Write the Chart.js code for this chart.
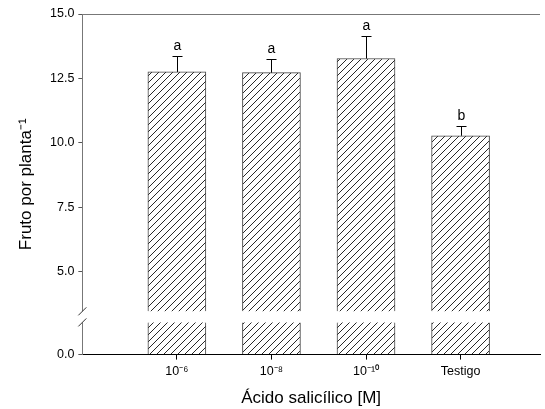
<!DOCTYPE html>
<html>
<head>
<meta charset="utf-8">
<script src="https://cdn.jsdelivr.net/npm/chart.js@4.4.0/dist/chart.umd.min.js"></script>
<style>
  body { margin: 0; background: #fff; }
  #wrap { width: 545px; height: 409px; }
</style>
</head>
<body>
<div id="wrap"><canvas id="chart" width="545" height="409"></canvas></div>
<script>
// values
const categories = ['10⁻⁶', '10⁻⁸', '10⁻¹⁰', 'Testigo'];
const fruitMeans = [12.75, 12.72, 13.27, 10.27];
const fruitErrors = [0.62, 0.53, 0.87, 0.39];
const groupLetters = ['a', 'a', 'a', 'b'];
const upperTicks = [5.0, 7.5, 10.0, 12.5, 15.0];
const lowerTicks = [0.0];

// broken y axis: upper part 3.25..15, lower part 0..1.48
const UPPER_MIN = 3.25, UPPER_MAX = 15;
const LOWER_MIN = 0, LOWER_MAX = 1.48;
const BREAK_HIGH = 3.45; // upper bar pieces start here
const BREAK_LOW = 1.25;  // lower bar pieces stop here

const font = 'Arial, "Liberation Sans", sans-serif';
const canvas = document.getElementById('chart');
const ctx = canvas.getContext('2d');

// diagonal hatch used as bar fill
function makeHatch() {
  const size = 7;
  const c = document.createElement('canvas');
  c.width = size;
  c.height = size;
  const g = c.getContext('2d');
  g.fillStyle = '#fff';
  g.fillRect(0, 0, size, size);
  g.strokeStyle = '#111';
  g.lineWidth = 0.9;
  g.beginPath();
  g.moveTo(-1, size + 1);
  g.lineTo(size + 1, -1);
  g.moveTo(-1, 1);
  g.lineTo(1, -1);
  g.moveTo(size - 1, size + 1);
  g.lineTo(size + 1, size - 1);
  g.stroke();
  return ctx.createPattern(c, 'repeat');
}
const hatch = makeHatch();

// error bars (upper half only) and the letters above them
const errorBarPlugin = {
  id: 'errorBars',
  afterDatasetsDraw(chart) {
    const c = chart.ctx;
    const xs = chart.scales.x;
    const ys = chart.scales.yHigh;
    c.save();
    c.strokeStyle = '#000';
    c.lineWidth = 1;
    c.fillStyle = '#000';
    c.font = '14px ' + font;
    c.textAlign = 'center';
    c.textBaseline = 'bottom';
    fruitMeans.forEach((m, i) => {
      const x = Math.round(xs.getPixelForValue(i + 1)) + 0.5;
      const yBar = ys.getPixelForValue(m);
      const yTop = Math.round(ys.getPixelForValue(m + fruitErrors[i])) + 0.5;
      c.beginPath();
      c.moveTo(x, yBar);
      c.lineTo(x, yTop);
      c.moveTo(x - 5, yTop);
      c.lineTo(x + 5, yTop);
      c.stroke();
      c.fillText(groupLetters[i], x, yTop - 3);
    });
    c.restore();
  }
};

// gap and slash marks on the y axis line, plus the y title centred on the whole axis
const axisBreakPlugin = {
  id: 'axisBreak',
  afterDraw(chart) {
    const c = chart.ctx;
    const area = chart.chartArea;
    const x = area.left;
    const yA = chart.scales.yHigh.getPixelForValue(BREAK_HIGH);
    const yB = chart.scales.yLow.getPixelForValue(BREAK_LOW);
    c.save();
    c.fillStyle = '#fff';
    c.fillRect(x - 2, yA, 4, yB - yA);
    c.strokeStyle = '#333';
    c.lineWidth = 1;
    [yA, yB].forEach(y => {
      c.beginPath();
      c.moveTo(x - 4, y + 4);
      c.lineTo(x + 4, y - 4);
      c.stroke();
    });
    c.translate(26, (area.top + area.bottom) / 2);
    c.rotate(-Math.PI / 2);
    c.fillStyle = '#000';
    c.font = '17px ' + font;
    c.textAlign = 'center';
    c.textBaseline = 'middle';
    c.fillText('Fruto por planta⁻¹', 0, 0);
    c.restore();
  }
};

const upperData = fruitMeans.map((m, i) => ({ x: i + 1, y: [BREAK_HIGH, m] }));
const lowerData = fruitMeans.map((m, i) => ({ x: i + 1, y: [LOWER_MIN, Math.min(m, BREAK_LOW)] }));

new Chart(ctx, {
  type: 'bar',
  data: {
    datasets: [
      {
        data: upperData,
        yAxisID: 'yHigh',
        backgroundColor: hatch,
        borderColor: '#444',
        borderWidth: { left: 1, right: 1, top: 1, bottom: 0 },
        borderSkipped: false,
        barThickness: 58,
      },
      {
        data: lowerData,
        yAxisID: 'yLow',
        backgroundColor: hatch,
        borderColor: '#444',
        borderWidth: { left: 1, right: 1, top: 0, bottom: 0 },
        borderSkipped: false,
        barThickness: 58,
      },
    ],
  },
  options: {
    responsive: false,
    animation: false,
    layout: { padding: { top: 14, right: 5, left: 46, bottom: 0 } },
    plugins: {
      legend: { display: false },
      tooltip: { enabled: false },
    },
    datasets: { bar: { grouped: false } },
    scales: {
      x: {
        type: 'linear',
        min: 0,
        max: 4.84,
        offset: false,
        afterBuildTicks: (scale) => {
          scale.ticks = categories.map((c, i) => ({ value: i + 1 }));
        },
        ticks: {
          callback: (v) => categories[v - 1],
          color: '#000',
          font: { family: font, size: 12.5 },
          padding: 4,
        },
        grid: { drawOnChartArea: false, offset: false, tickLength: 5, tickColor: '#000' },
        border: { color: '#000', width: 1 },
        title: {
          display: true,
          text: 'Ácido salicílico [M]',
          color: '#000',
          font: { family: font, size: 17 },
          padding: { top: 6, bottom: 0 },
        },
      },
      // lower piece first: left boxes are laid out in reverse order
      yLow: {
        type: 'linear',
        position: 'left',
        stack: 'yBroken',
        stackWeight: LOWER_MAX - LOWER_MIN,
        min: LOWER_MIN,
        max: LOWER_MAX,
        afterBuildTicks: (scale) => {
          scale.ticks = lowerTicks.map(v => ({ value: v }));
        },
        ticks: {
          callback: (v) => v.toFixed(1),
          color: '#000',
          font: { family: font, size: 12.5 },
          padding: 4,
        },
        grid: { drawOnChartArea: false, tickColor: '#555', tickLength: 4 },
        border: { color: '#777', width: 1 },
      },
      yHigh: {
        type: 'linear',
        position: 'left',
        stack: 'yBroken',
        stackWeight: UPPER_MAX - UPPER_MIN,
        min: UPPER_MIN,
        max: UPPER_MAX,
        afterBuildTicks: (scale) => {
          scale.ticks = upperTicks.map(v => ({ value: v }));
        },
        ticks: {
          callback: (v) => v.toFixed(1),
          color: '#000',
          font: { family: font, size: 12.5 },
          padding: 4,
        },
        grid: {
          color: (c) => (c.tick && c.tick.value === UPPER_MAX ? '#777' : 'rgba(0,0,0,0)'),
          tickColor: '#555',
          tickLength: 4,
        },
        border: { color: '#777', width: 1 },
      },
    },
  },
  plugins: [errorBarPlugin, axisBreakPlugin],
});
</script>
</body>
</html>
